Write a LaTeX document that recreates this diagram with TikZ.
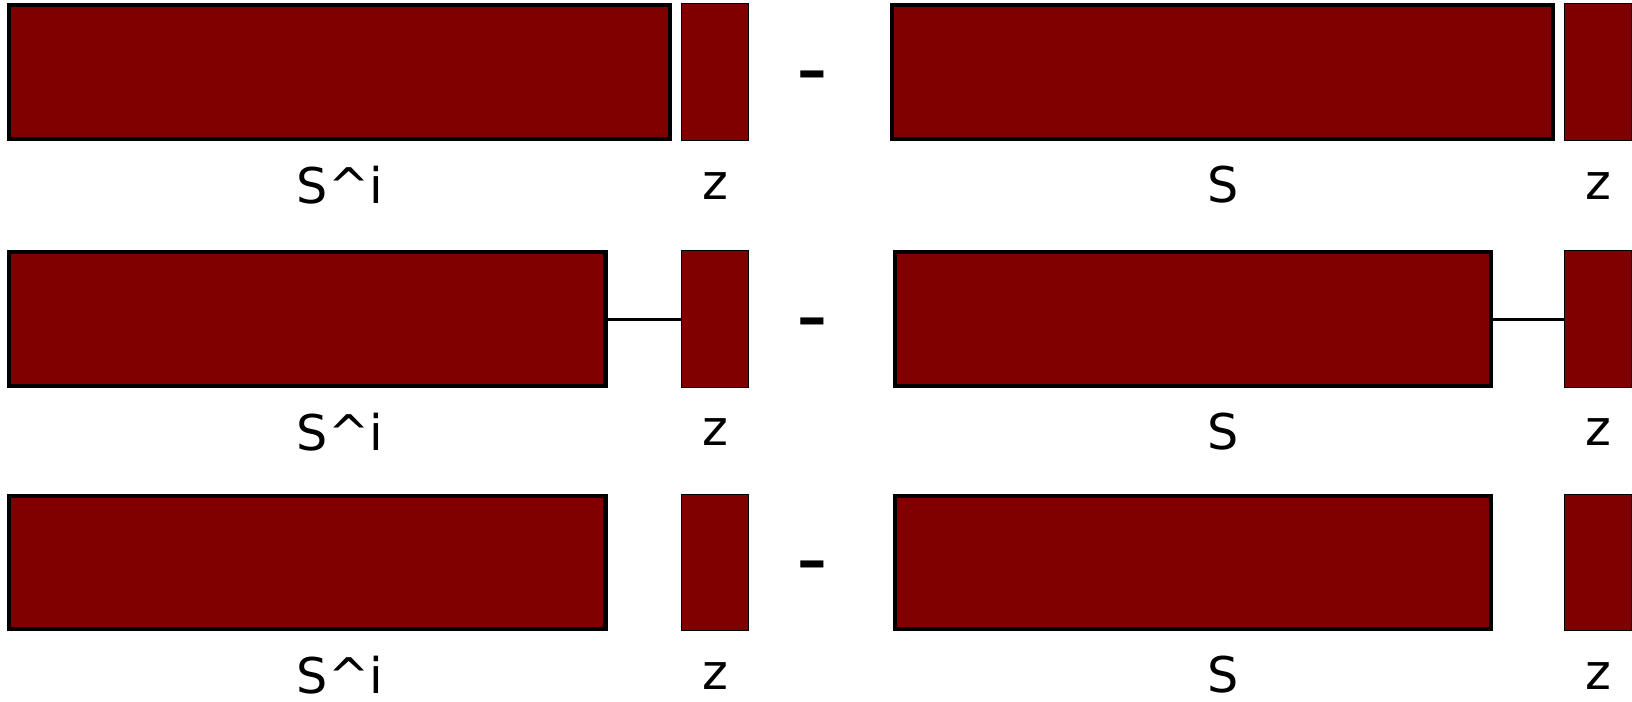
\documentclass[tikz,border=0pt]{standalone}
\usepackage{fontspec}
\setmainfont{DejaVu Sans}
\usepackage{tikz}
\definecolor{blockred}{HTML}{800000}

\begin{document}
\begin{tikzpicture}[x=0.02cm,y=-0.02cm,
  big/.style={rectangle,draw=black,line width=2.3pt,fill=blockred,inner sep=0pt,minimum height=2.67cm},
  small/.style={rectangle,draw=black,line width=0.6pt,fill=blockred,inner sep=0pt,minimum width=1.34cm,minimum height=2.73cm},
  lbl/.style={font=\fontsize{28}{32}\selectfont,inner sep=0pt},
  op/.style={font=\fontsize{50}{60}\selectfont,anchor=base,inner sep=0pt},
  link/.style={line width=1.5pt}]

\useasboundingbox (0,0) rectangle (1632,702);

% row 1: blocks side by side
\node[big,minimum width=13.226cm] (b1l) at (339.7,72.2) {};
\node[small] (s1l) at (715.2,72.2) {};
\node[op] (m1) at (812.5,98.5) {-};
\node[big,minimum width=13.22cm] (b1r) at (1222.5,72.2) {};
\node[small] (s1r) at (1598,72.2) {};
\node[lbl] (l1a) at (340,185) {S\textasciicircum i};
\node[lbl] (l1b) at (715.5,186) {z};
\node[lbl] (l1c) at (1222.7,185) {S};
\node[lbl] (l1d) at (1598.3,186) {z};

% row 2: shorter blocks, joined to z
\node[big,minimum width=11.93cm] (b2l) at (307.3,319.2) {};
\node[small] (s2l) at (715.2,319.2) {};
\node[op] (m2) at (812.5,345.7) {-};
\node[big,minimum width=11.92cm] (b2r) at (1193.2,319.2) {};
\node[small] (s2r) at (1598,319.2) {};
\draw[link] (b2l.east) -- (s2l.west);
\draw[link] (b2r.east) -- (s2r.west);
\node[lbl] (l2a) at (340,432) {S\textasciicircum i};
\node[lbl] (l2b) at (715.5,432) {z};
\node[lbl] (l2c) at (1222.7,432) {S};
\node[lbl] (l2d) at (1598.3,432) {z};

% row 3: shorter blocks, not joined
\node[big,minimum width=11.93cm] (b3l) at (307.3,562.7) {};
\node[small] (s3l) at (715.2,562.7) {};
\node[op] (m3) at (812.5,588.2) {-};
\node[big,minimum width=11.92cm] (b3r) at (1193.2,562.7) {};
\node[small] (s3r) at (1598,562.7) {};
\node[lbl] (l3a) at (340,675) {S\textasciicircum i};
\node[lbl] (l3b) at (715.5,676) {z};
\node[lbl] (l3c) at (1222.7,675) {S};
\node[lbl] (l3d) at (1598.3,676) {z};
\end{tikzpicture}
\end{document}
